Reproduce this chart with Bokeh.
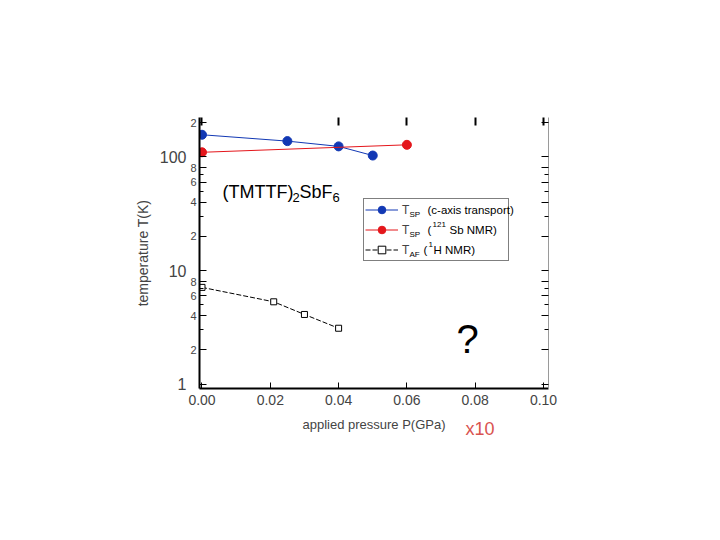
from bokeh.plotting import figure
from bokeh.models import (Range1d, LogAxis, LinearAxis, FixedTicker, Label, Legend,
                          LegendItem, CustomJSTickFormatter, Title)
from bokeh.embed import file_html
from bokeh.resources import INLINE

# ---------------- data ----------------
P_SP_TRANSPORT = [0.0, 0.025, 0.04, 0.05]
T_SP_TRANSPORT = [157, 138, 124, 103]
P_SP_NMR = [0.0, 0.06]
T_SP_NMR = [110, 128]
P_AF = [0.0, 0.021, 0.03, 0.04]
T_AF = [7.1, 5.3, 4.1, 3.1]

X_TICKS = [0.0, 0.02, 0.04, 0.06, 0.08, 0.10]
X_TICK_LABELS = ["0.00", "0.02", "0.04", "0.06", "0.08", "0.10"]
X_TOP_TICKS = [0.0, 0.04, 0.06, 0.08, 0.10]
Y_MAJOR = [1, 2, 4, 6, 8, 10, 20, 40, 60, 80, 100, 200]
Y_MAJOR_LABELS = ["", "2", "4", "6", "8", "", "2", "4", "6", "8", "", "2"]
Y_DECADES = [1, 10, 100]
Y_DECADE_LABELS = ["1", "10", "100"]
Y_MINOR = [3, 5, 7, 30, 50, 70]

BLUE = "#1238b4"
RED = "#e4161b"
FONT = "Liberation Sans"

p = figure(width=720, height=540,
           x_range=Range1d(-0.000732, 0.101464), y_range=Range1d(0.913, 222.8),
           y_axis_type="log", output_backend="svg", toolbar_location=None,
           min_border_left=199, min_border_right=172, min_border_top=117,
           min_border_bottom=152)
p.outline_line_color = None
p.xgrid.visible = False
p.ygrid.visible = False

# bottom axis
xa = p.xaxis[0]
xa.ticker = FixedTicker(ticks=X_TICKS, minor_ticks=[])
xa.major_label_overrides = {t: l for t, l in zip(X_TICKS, X_TICK_LABELS)}
xa.major_tick_in = 6
xa.major_tick_out = 0
xa.minor_tick_in = 0
xa.minor_tick_out = 0
xa.axis_line_width = 2
xa.major_tick_line_width = 1
xa.major_label_standoff = 6
xa.major_label_text_font = FONT
xa.major_label_text_font_size = "14px"
xa.axis_label = "applied pressure P(GPa)"
xa.axis_label_text_font = FONT
xa.axis_label_text_font_style = "normal"
xa.axis_label_text_font_size = "13px"
xa.axis_label_standoff = 9

# red "x10" note under the axis title
p.add_layout(Title(text="x10", align="left", offset=266, standoff=-32,
                   vertical_align="top", text_color="#d9534f",
                   text_font=FONT, text_font_size="18px",
                   text_font_style="normal"), "below")

# left axis (inner: ticks + small labels)
ya = p.yaxis[0]
ya.ticker = FixedTicker(ticks=Y_MAJOR, minor_ticks=Y_MINOR)
ya.major_label_overrides = {t: l for t, l in zip(Y_MAJOR, Y_MAJOR_LABELS)}
ya.major_tick_in = 7
ya.major_tick_out = 0
ya.minor_tick_in = 4
ya.minor_tick_out = 0
ya.axis_line_width = 2
ya.major_label_standoff = 3
ya.major_label_text_font = FONT
ya.major_label_text_font_size = "11px"

# left axis (outer: decade labels, larger)
ya2 = LogAxis(ticker=FixedTicker(ticks=Y_DECADES, minor_ticks=[]))
ya2.major_label_overrides = {t: l for t, l in zip(Y_DECADES, Y_DECADE_LABELS)}
ya2.axis_line_color = None
ya2.major_tick_in = 0
ya2.major_tick_out = 0
ya2.minor_tick_in = 0
ya2.minor_tick_out = 0
ya2.major_label_standoff = 1
ya2.major_label_text_font = FONT
ya2.major_label_text_font_size = "16px"
ya2.axis_label = "temperature T(K)"
ya2.axis_label_text_font = FONT
ya2.axis_label_text_font_style = "normal"
ya2.axis_label_text_font_size = "14px"
ya2.axis_label_standoff = 6
p.add_layout(ya2, "left")

# right axis
ra = LogAxis(ticker=FixedTicker(ticks=Y_MAJOR, minor_ticks=Y_MINOR),
             formatter=CustomJSTickFormatter(code="return ''"))
ra.major_tick_in = 7
ra.major_tick_out = 0
ra.minor_tick_in = 4
ra.minor_tick_out = 0
ra.axis_line_color = "#9a9a9a"
ra.major_label_standoff = 0
p.add_layout(ra, "right")

# top axis
ta = LinearAxis(ticker=FixedTicker(ticks=X_TOP_TICKS, minor_ticks=[]),
                formatter=CustomJSTickFormatter(code="return ''"))
ta.axis_line_color = None
ta.major_tick_in = 8
ta.major_tick_out = 0
ta.major_tick_line_width = 2
ta.minor_tick_in = 0
ta.minor_tick_out = 0
ta.major_label_standoff = 0
p.add_layout(ta, "above")

# data
r1l = p.line(P_SP_TRANSPORT, T_SP_TRANSPORT, line_color=BLUE, line_width=1)
r1s = p.scatter(P_SP_TRANSPORT, T_SP_TRANSPORT, size=9, fill_color=BLUE, line_color=BLUE)
r2l = p.line(P_SP_NMR, T_SP_NMR, line_color=RED, line_width=1)
r2s = p.scatter(P_SP_NMR, T_SP_NMR, size=9, fill_color=RED, line_color=RED)
r3l = p.line(P_AF, T_AF, line_color="black", line_width=1, line_dash="5 2")
r3s = p.scatter(P_AF, T_AF, marker="square", size=6, fill_color="white",
                line_color="black", line_width=1)

legend = Legend(items=[LegendItem(label="T", renderers=[r1l, r1s]),
                       LegendItem(label="T", renderers=[r2l, r2s]),
                       LegendItem(label="T", renderers=[r3l, r3s])],
                location=(164, 127), padding=1, spacing=1, label_height=19,
                glyph_height=19, glyph_width=33, label_standoff=4, label_width=105,
                border_line_color="black", border_line_width=1.5, margin=0,
                label_text_font=FONT, label_text_font_size="12px",
                background_fill_alpha=0)
p.add_layout(legend, "center")


def lab(text, x, y, size, color="black", align="left", baseline="alphabetic"):
    p.add_layout(Label(text=text, x=x, y=y, x_units="screen", y_units="screen",
                       text_font=FONT, text_font_size=size, text_color=color,
                       text_align=align, text_baseline=baseline))


# compound title (TMTTF)2SbF6
lab("(TMTTF)", 23, 197, "18px")
lab("2", 93, 191, "13px")
lab("SbF", 100, 197, "18px")
lab("6", 133, 191, "13px")

# legend texts with sub/superscripts
lab("SP", 210, 174.5, "8px", baseline="middle")
lab("(c-axis transport)", 228, 178.5, "11.5px", baseline="middle")
lab("SP", 210, 154.5, "8px", baseline="middle")
lab("(", 228, 158.5, "11.5px", baseline="middle")
lab("121", 233, 164, "8px", baseline="middle")
lab("Sb NMR)", 250, 158.5, "11.5px", baseline="middle")
lab("AF", 210, 134.5, "8px", baseline="middle")
lab("(", 224, 138.5, "11.5px", baseline="middle")
lab("1", 229, 144, "8px", baseline="middle")
lab("H NMR)", 234, 138.5, "11.5px", baseline="middle")

# question mark
lab("?", 268, 50, "40px", align="center")

open("out.html", "w").write(file_html(p, INLINE))
